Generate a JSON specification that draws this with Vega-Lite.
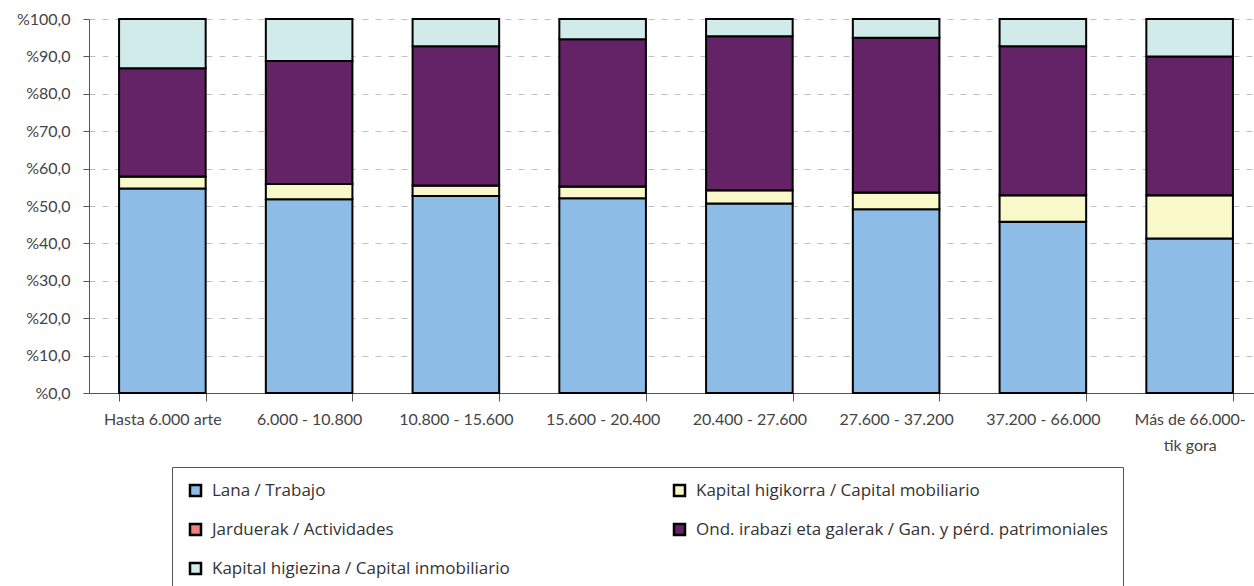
{
  "$schema": "https://vega.github.io/schema/vega-lite/v6.json",
  "autosize": {"type": "none"},
  "padding": {"left": 89, "top": 19, "right": 0, "bottom": 193},
  "width": 1165,
  "height": 374,
  "background": "white",
  "config": {
    "view": {"stroke": null},
    "font": "Lato",
    "axis": {"labelFont": "Lato", "labelFontSize": 16, "labelColor": "#444444"},
    "legend": {"labelFont": "Open Sans"}
  },
  "data": {
    "values": [
      {"cat": "Hasta 6.000 arte", "comp": "Lana / Trabajo", "value": 54.7},
      {"cat": "Hasta 6.000 arte", "comp": "Kapital higikorra / Capital mobiliario", "value": 3.2},
      {"cat": "Hasta 6.000 arte", "comp": "Jarduerak / Actividades", "value": 0},
      {"cat": "Hasta 6.000 arte", "comp": "Ond. irabazi eta galerak / Gan. y pérd. patrimoniales", "value": 28.9},
      {"cat": "Hasta 6.000 arte", "comp": "Kapital higiezina / Capital inmobiliario", "value": 13.2},
      {"cat": "6.000 - 10.800", "comp": "Lana / Trabajo", "value": 51.8},
      {"cat": "6.000 - 10.800", "comp": "Kapital higikorra / Capital mobiliario", "value": 4.1},
      {"cat": "6.000 - 10.800", "comp": "Jarduerak / Actividades", "value": 0},
      {"cat": "6.000 - 10.800", "comp": "Ond. irabazi eta galerak / Gan. y pérd. patrimoniales", "value": 32.9},
      {"cat": "6.000 - 10.800", "comp": "Kapital higiezina / Capital inmobiliario", "value": 11.2},
      {"cat": "10.800 - 15.600", "comp": "Lana / Trabajo", "value": 52.7},
      {"cat": "10.800 - 15.600", "comp": "Kapital higikorra / Capital mobiliario", "value": 2.8},
      {"cat": "10.800 - 15.600", "comp": "Jarduerak / Actividades", "value": 0},
      {"cat": "10.800 - 15.600", "comp": "Ond. irabazi eta galerak / Gan. y pérd. patrimoniales", "value": 37.2},
      {"cat": "10.800 - 15.600", "comp": "Kapital higiezina / Capital inmobiliario", "value": 7.3},
      {"cat": "15.600 - 20.400", "comp": "Lana / Trabajo", "value": 52.1},
      {"cat": "15.600 - 20.400", "comp": "Kapital higikorra / Capital mobiliario", "value": 3.1},
      {"cat": "15.600 - 20.400", "comp": "Jarduerak / Actividades", "value": 0},
      {"cat": "15.600 - 20.400", "comp": "Ond. irabazi eta galerak / Gan. y pérd. patrimoniales", "value": 39.4},
      {"cat": "15.600 - 20.400", "comp": "Kapital higiezina / Capital inmobiliario", "value": 5.4},
      {"cat": "20.400 - 27.600", "comp": "Lana / Trabajo", "value": 50.7},
      {"cat": "20.400 - 27.600", "comp": "Kapital higikorra / Capital mobiliario", "value": 3.5},
      {"cat": "20.400 - 27.600", "comp": "Jarduerak / Actividades", "value": 0},
      {"cat": "20.400 - 27.600", "comp": "Ond. irabazi eta galerak / Gan. y pérd. patrimoniales", "value": 41.2},
      {"cat": "20.400 - 27.600", "comp": "Kapital higiezina / Capital inmobiliario", "value": 4.6},
      {"cat": "27.600 - 37.200", "comp": "Lana / Trabajo", "value": 49.1},
      {"cat": "27.600 - 37.200", "comp": "Kapital higikorra / Capital mobiliario", "value": 4.5},
      {"cat": "27.600 - 37.200", "comp": "Jarduerak / Actividades", "value": 0},
      {"cat": "27.600 - 37.200", "comp": "Ond. irabazi eta galerak / Gan. y pérd. patrimoniales", "value": 41.4},
      {"cat": "27.600 - 37.200", "comp": "Kapital higiezina / Capital inmobiliario", "value": 5.0},
      {"cat": "37.200 - 66.000", "comp": "Lana / Trabajo", "value": 45.8},
      {"cat": "37.200 - 66.000", "comp": "Kapital higikorra / Capital mobiliario", "value": 7.1},
      {"cat": "37.200 - 66.000", "comp": "Jarduerak / Actividades", "value": 0},
      {"cat": "37.200 - 66.000", "comp": "Ond. irabazi eta galerak / Gan. y pérd. patrimoniales", "value": 39.8},
      {"cat": "37.200 - 66.000", "comp": "Kapital higiezina / Capital inmobiliario", "value": 7.3},
      {"cat": "Más de 66.000-tik gora", "comp": "Lana / Trabajo", "value": 41.3},
      {"cat": "Más de 66.000-tik gora", "comp": "Kapital higikorra / Capital mobiliario", "value": 11.6},
      {"cat": "Más de 66.000-tik gora", "comp": "Jarduerak / Actividades", "value": 0},
      {"cat": "Más de 66.000-tik gora", "comp": "Ond. irabazi eta galerak / Gan. y pérd. patrimoniales", "value": 37.1},
      {"cat": "Más de 66.000-tik gora", "comp": "Kapital higiezina / Capital inmobiliario", "value": 10.0}
    ]
  },
  "transform": [
    {"calculate": "indexof(['Lana / Trabajo','Kapital higikorra / Capital mobiliario','Jarduerak / Actividades','Ond. irabazi eta galerak / Gan. y pérd. patrimoniales','Kapital higiezina / Capital inmobiliario'], datum.comp)", "as": "ord"}
  ],
  "mark": {"type": "bar", "stroke": "#000000", "strokeWidth": 2},
  "encoding": {
    "x": {
      "field": "cat",
      "type": "nominal",
      "sort": null,
      "scale": {"range": [0, 1174], "paddingInner": 0.41, "paddingOuter": 0.205},
      "axis": {
        "title": null,
        "labelAngle": 0,
        "labelPadding": 10,
        "tickBand": "extent",
        "tickSize": 8,
        "tickColor": "#555555",
        "domainColor": "#555555",
        "labelExpr": "datum.value == 'Más de 66.000-tik gora' ? ['Más de 66.000-', 'tik gora'] : datum.value",
        "labelLineHeight": 26
      }
    },
    "y": {
      "field": "value",
      "type": "quantitative",
      "stack": "zero",
      "scale": {"domain": [0, 100], "nice": false},
      "axis": {
        "title": null,
        "values": [0, 10, 20, 30, 40, 50, 60, 70, 80, 90, 100],
        "labelExpr": "'%' + replace(format(datum.value, '.1f'), '.', ',')",
        "tickSize": 6,
        "tickColor": "#555555",
        "domainColor": "#555555",
        "labelPadding": 13,
        "grid": true,
        "gridDash": [6, 7],
        "gridColor": "#c0c0c0",
        "gridWidth": 1
      }
    },
    "color": {
      "field": "comp",
      "type": "nominal",
      "scale": {
        "domain": ["Lana / Trabajo", "Kapital higikorra / Capital mobiliario", "Jarduerak / Actividades", "Ond. irabazi eta galerak / Gan. y pérd. patrimoniales", "Kapital higiezina / Capital inmobiliario"],
        "range": ["#8dbde6", "#f8f8c8", "#f08080", "#632366", "#d1ebeb"]
      },
      "legend": {
        "title": null,
        "orient": "none",
        "legendX": 83,
        "legendY": 448,
        "columns": 2,
        "direction": "horizontal",
        "padding": 15,
        "strokeColor": "#555555",
        "symbolType": "square",
        "symbolSize": 121,
        "symbolStrokeColor": "#000000",
        "symbolStrokeWidth": 2.5,
        "labelFontSize": 17,
        "labelColor": "#333333",
        "labelLimit": 600,
        "labelOffset": 8,
        "rowPadding": 18,
        "columnPadding": 159,
        "symbolOffset": 0
      }
    },
    "order": {"field": "ord", "type": "quantitative"}
  }
}
